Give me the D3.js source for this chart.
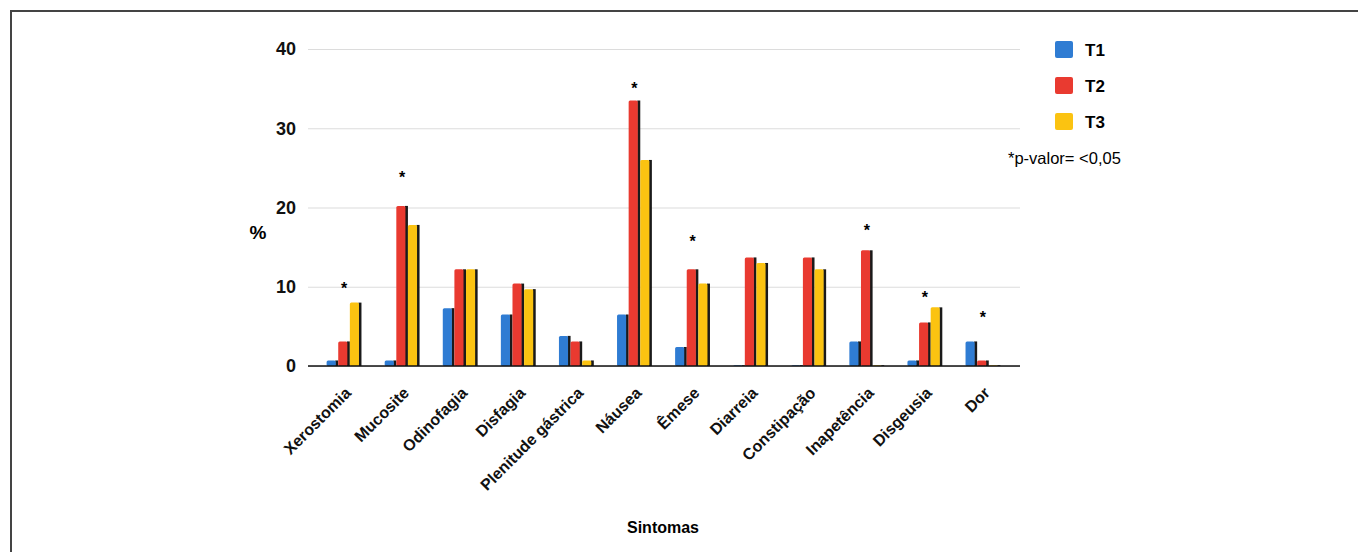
<!DOCTYPE html>
<html>
<head>
<meta charset="utf-8">
<script src="https://cdn.jsdelivr.net/npm/d3@7"></script>
<style>
  body { margin: 0; background: #fff; }
  svg { font-family: "Liberation Sans", Arial, sans-serif; }
</style>
</head>
<body>
<div id="chart"></div>
<script>
// data
var categories = ["Xerostomia", "Mucosite", "Odinofagia", "Disfagia", "Plenitude gástrica", "Náusea",
                  "Êmese", "Diarreia", "Constipação", "Inapetência", "Disgeusia", "Dor"];
var series = ["T1", "T2", "T3"];
var t1 = [0.7, 0.7, 7.3, 6.5, 3.8, 6.5, 2.4, 0.1, 0.1, 3.1, 0.7, 3.1];
var t2 = [3.1, 20.2, 12.2, 10.4, 3.1, 33.5, 12.2, 13.7, 13.7, 14.6, 5.5, 0.7];
var t3 = [8.0, 17.8, 12.2, 9.7, 0.7, 26.0, 10.4, 13.0, 12.2, 0.1, 7.4, 0.1];
var yTicks = [0, 10, 20, 30, 40];
// significance marks (*) : category and height of the mark
var starCats = ["Xerostomia", "Mucosite", "Náusea", "Êmese", "Inapetência", "Disgeusia", "Dor"];
var starVals = [10, 24, 35.2, 15.9, 17.3, 8.8, 6.3];
var colors = {"T1": "#2f7cd3", "T2": "#e93a30", "T3": "#fbc311"};

var W = 1358, H = 552;
var svg = d3.select("#chart").append("svg")
    .attr("width", W).attr("height", H);

// frame (only top and left visible)
svg.append("path")
    .attr("d", "M11,552 V11 H1358")
    .attr("fill", "none").attr("stroke", "#444").attr("stroke-width", 2);

var y = d3.scaleLinear().domain([0, 40]).range([366, 49]);
var x0 = d3.scaleBand().domain(categories).range([315, 1012])
    .paddingInner(0.4).paddingOuter(0.2);
var x1 = d3.scaleBand().domain(series).range([0, x0.bandwidth()]);

// gridlines + tick labels
var gy = svg.append("g")
    .attr("transform", "translate(308,0)")
    .call(d3.axisLeft(y).tickValues(yTicks).tickSize(-712).tickPadding(12));
gy.select(".domain").remove();
gy.selectAll(".tick line").attr("stroke", "#dcdcdc").attr("stroke-width", 1.2);
gy.selectAll(".tick text")
    .attr("font-size", 18).attr("font-weight", "bold").attr("fill", "#111");

// bars
var rows = categories.map(function (c, i) {
    return {cat: c, vals: [t1[i], t2[i], t3[i]]};
});
var groups = svg.append("g").selectAll("g")
    .data(rows).enter().append("g")
    .attr("transform", function (d) { return "translate(" + x0(d.cat) + ",0)"; });

var bars = groups.selectAll("g")
    .data(function (d) {
        return series.map(function (s, k) { return {s: s, v: d.vals[k]}; });
    })
    .enter().append("g");

// dark shadow on the right side of every bar
bars.append("rect")
    .attr("x", function (d) { return x1(d.s) + x1.bandwidth() - 3; })
    .attr("y", function (d) { return y(d.v); })
    .attr("width", 3)
    .attr("height", function (d) { return y(0) - y(d.v); })
    .attr("fill", "#1a1a1a");
bars.append("rect")
    .attr("x", function (d) { return x1(d.s); })
    .attr("y", function (d) { return y(d.v); })
    .attr("width", x1.bandwidth() - 2.5)
    .attr("height", function (d) { return y(0) - y(d.v); })
    .attr("rx", 1.5)
    .attr("fill", function (d) { return colors[d.s]; });

// zero line
svg.append("line")
    .attr("x1", 308).attr("x2", 1020)
    .attr("y1", y(0)).attr("y2", y(0))
    .attr("stroke", "#111").attr("stroke-width", 1.6);

// significance stars
svg.append("g").selectAll("text")
    .data(starCats).enter().append("text")
    .attr("x", function (d) { return x0(d) + x0.bandwidth() / 2; })
    .attr("y", function (d, i) { return y(starVals[i]) + 7; })
    .attr("text-anchor", "middle")
    .attr("font-size", 16).attr("font-weight", "bold")
    .text("*");

// category labels, rotated
svg.append("g").selectAll("text")
    .data(categories).enter().append("text")
    .attr("transform", function (d) {
        return "translate(" + (x0(d) + x0.bandwidth() / 2 + 4) + "," + (y(0) + 24) + ") rotate(-45)";
    })
    .attr("text-anchor", "end")
    .attr("dy", "0.35em")
    .attr("font-size", 16).attr("font-weight", "bold").attr("fill", "#111")
    .text(function (d) { return d; });

// axis titles
svg.append("text")
    .attr("x", 258).attr("y", 239)
    .attr("text-anchor", "middle")
    .attr("font-size", 19).attr("font-weight", "bold")
    .text("%");
svg.append("text")
    .attr("x", 663).attr("y", 533)
    .attr("text-anchor", "middle")
    .attr("font-size", 16).attr("font-weight", "bold")
    .text("Sintomas");

// legend
var lg = svg.append("g").selectAll("g")
    .data(series).enter().append("g")
    .attr("transform", function (d, i) { return "translate(1055," + (41 + i * 36) + ")"; });
lg.append("rect")
    .attr("width", 18).attr("height", 17).attr("rx", 2)
    .attr("fill", function (d) { return colors[d]; });
lg.append("text")
    .attr("x", 30).attr("y", 9).attr("dy", "0.35em")
    .attr("font-size", 17).attr("font-weight", "bold")
    .text(function (d) { return d; });

svg.append("text")
    .attr("x", 1008).attr("y", 158).attr("dy", "0.35em")
    .attr("font-size", 16.5)
    .text("*p-valor= <0,05");
</script>
</body>
</html>
